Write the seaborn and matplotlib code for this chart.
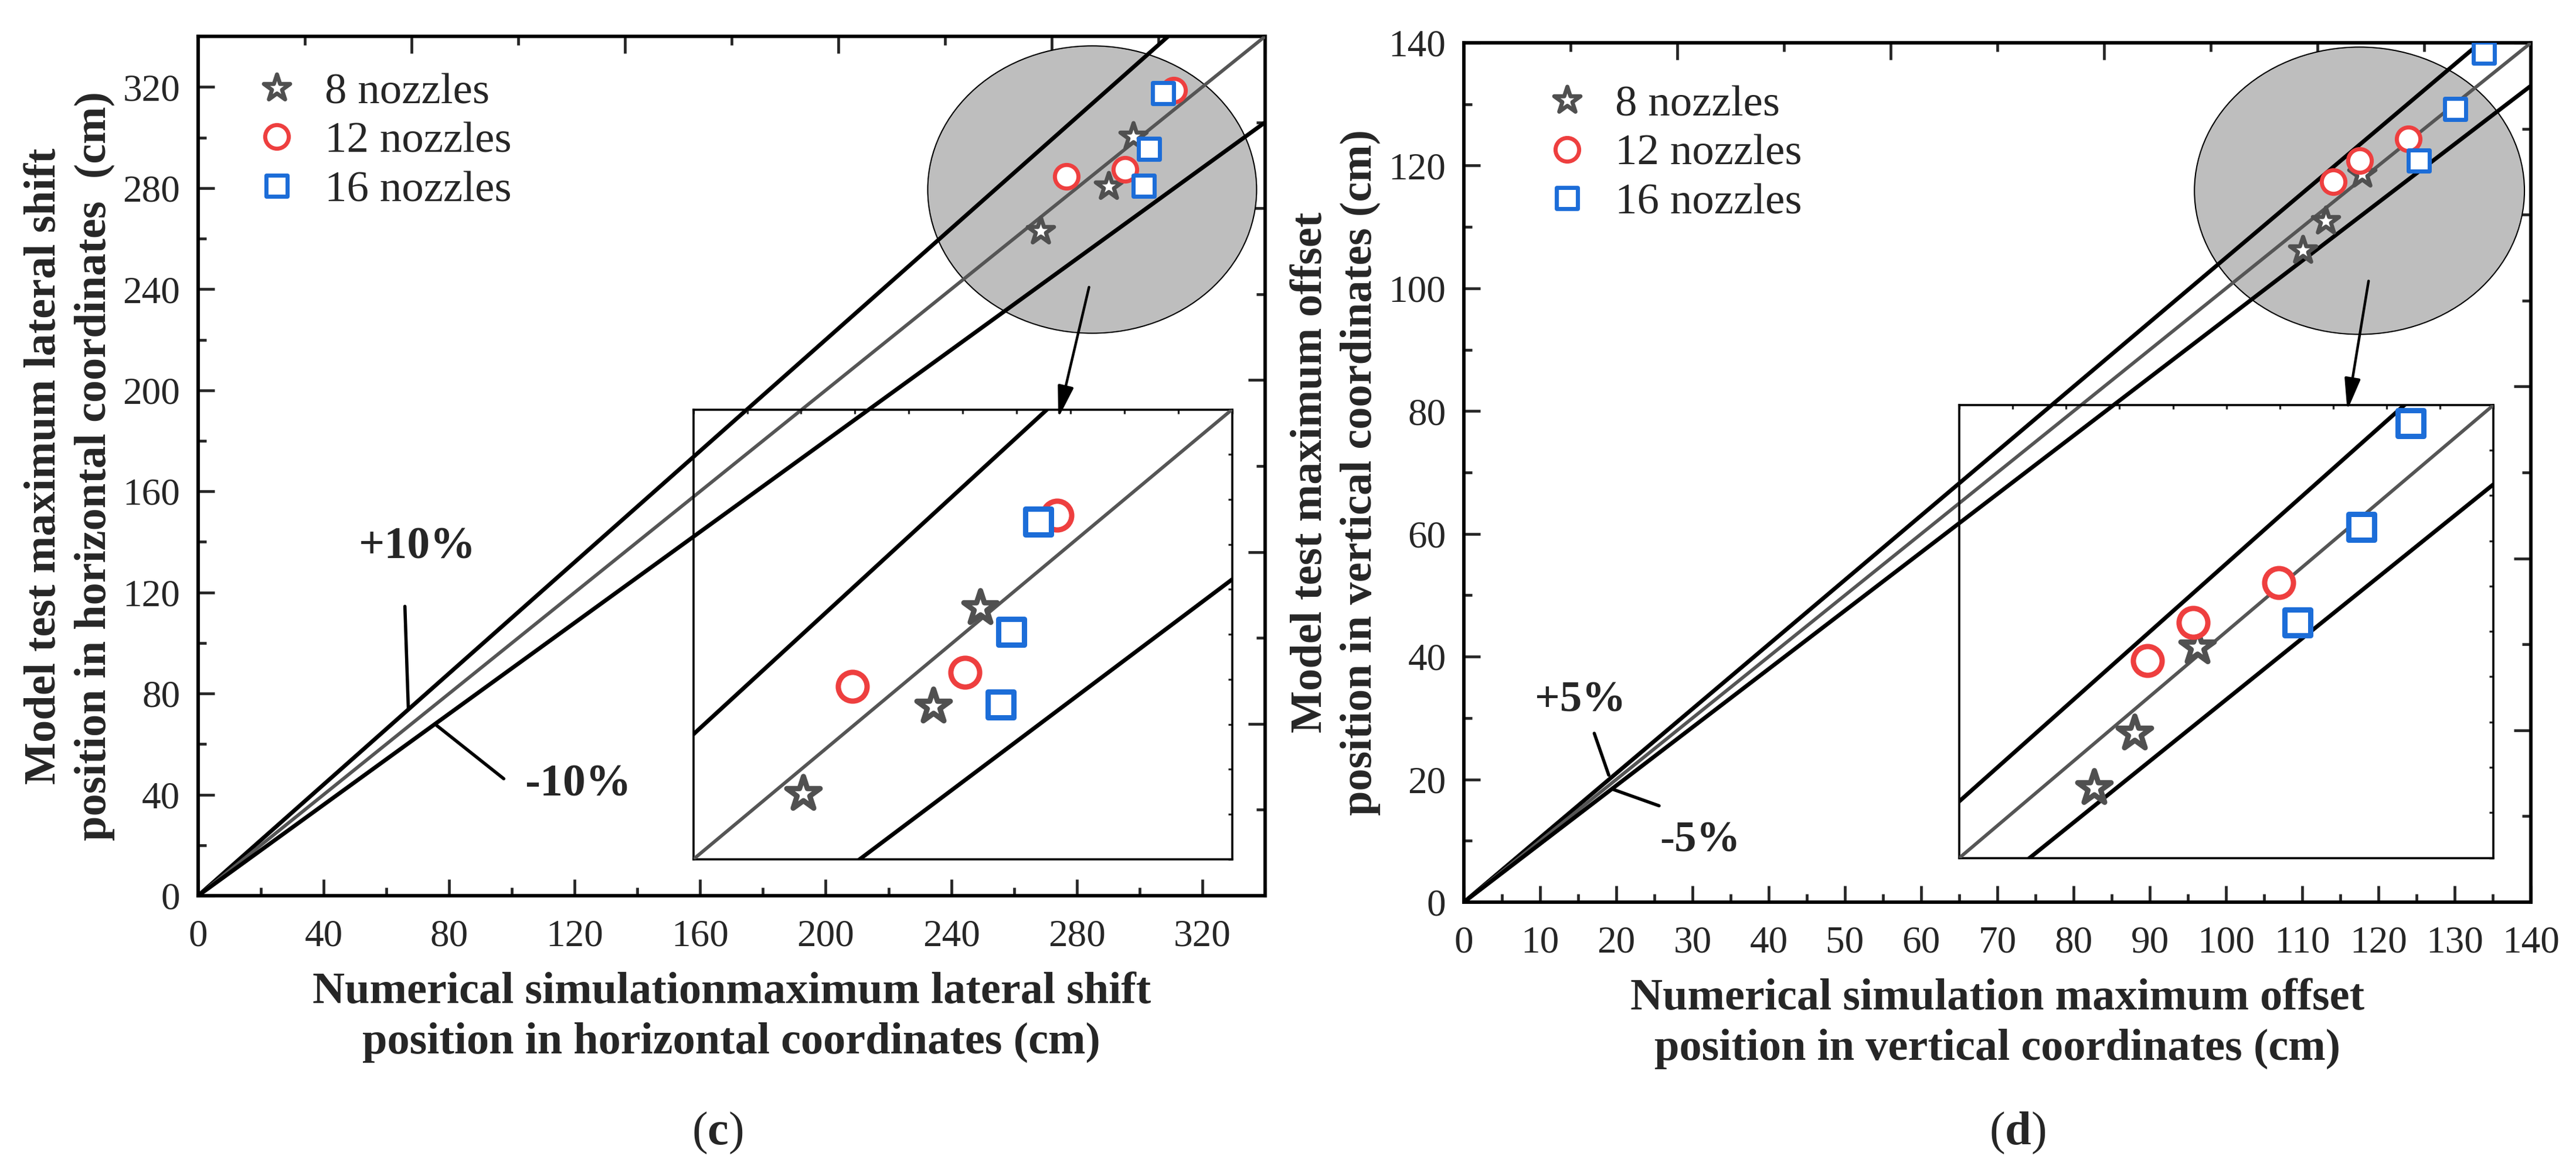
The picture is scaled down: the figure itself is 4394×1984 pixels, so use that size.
import numpy as np
import seaborn as sns
import matplotlib
matplotlib.use("Agg")
import matplotlib.pyplot as plt
from matplotlib.patches import Ellipse

# ---- data ----
# (c) lateral shift, horizontal coordinates (cm)
c_sim_8 = [268.4, 290.1, 297.9]
c_test_8 = [263.1, 280.6, 300.3]
c_sim_12 = [276.6, 295.4, 310.8]
c_test_12 = [284.6, 287.4, 318.8]
c_sim_16 = [307.6, 303.1, 301.4]
c_test_16 = [317.6, 295.5, 280.9]

# (d) offset, vertical coordinates (cm)
d_sim_8 = [110.1, 113.1, 117.8]
d_test_8 = [106.2, 111.0, 118.6]
d_sim_12 = [114.1, 117.5, 123.9]
d_test_12 = [117.4, 120.8, 124.3]
d_sim_16 = [125.3, 130.1, 133.8]
d_test_16 = [120.8, 129.2, 138.4]

labels = ["8 nozzles", "12 nozzles", "16 nozzles"]
markers = ["*", "o", "s"]
colors = ["#505050", "#EE3F3F", "#1C6DD8"]

sns.set_theme(style="white")
plt.rcParams["font.family"] = ["Liberation Serif", "DejaVu Serif"]
plt.rcParams["mathtext.fontset"] = "custom"
plt.rcParams["mathtext.rm"] = "Liberation Serif"
plt.rcParams["mathtext.bf"] = "Liberation Serif:bold"

fig = plt.figure(figsize=(43.94, 19.84), dpi=100)
axc = fig.add_axes([0.0769, 0.2298, 0.4142, 0.7389])
axd = fig.add_axes([0.5683, 0.2243, 0.4142, 0.7389])

main_sizes = {"*": 1150, "o": 840, "s": 660}
inset_sizes = {"*": 1850, "o": 1250, "s": 980}


def draw_points(ax, sims, tests, sizes, lw):
    handles = []
    for sx, sy, lab, mk, col in zip(sims, tests, labels, markers, colors):
        h = sns.scatterplot(x=sx, y=sy, marker=mk, s=sizes[mk], facecolor="white",
                            edgecolor=col, linewidth=lw, ax=ax, zorder=5, label=lab)
        handles.append(h.collections[-1])
    return handles


def draw_lines(ax, lim, band):
    xs = np.array([0, lim])
    ax.plot(xs, xs * (1 + band), color="black", lw=5, zorder=3, solid_capstyle="butt")
    ax.plot(xs, xs, color="#555555", lw=4.2, zorder=3, solid_capstyle="butt")
    ax.plot(xs, xs * (1 - band), color="black", lw=5, zorder=3, solid_capstyle="butt")


def style_main(ax, lim, major, minor, xlabel, ylabel):
    ax.set_xlim(0, lim)
    ax.set_ylim(0, lim)
    for s in ax.spines.values():
        s.set_linewidth(4.2)
        s.set_color("black")
    ax.tick_params(which="both", direction="in", width=3.4, top=False, right=False,
                   labelsize=47, bottom=True, left=True)
    ax.tick_params(axis="x", which="both", pad=29)
    ax.tick_params(axis="y", which="both", pad=22)
    ax.tick_params(which="major", length=20)
    ax.tick_params(which="minor", length=10)
    ax.set_xticks(np.arange(0, lim + 0.1, major[0]))
    ax.set_xticks(np.arange(0, lim + 0.1, minor[0]), minor=True)
    ax.set_yticks(np.arange(0, lim + 0.1, major[1]))
    ax.set_yticks(np.arange(0, lim + 0.1, minor[1]), minor=True)
    ax.set_xlabel(xlabel, fontsize=55, fontweight="bold", labelpad=22, linespacing=1.3)
    ax.set_ylabel(ylabel, fontsize=55, fontweight="bold", labelpad=10, linespacing=1.3)
    # opposite axes carry ticks at one tenth of the range
    step = lim / 10
    top = ax.secondary_xaxis("top")
    right = ax.secondary_yaxis("right")
    for sec in (top, right):
        sec.set_ticks(np.arange(2 * step, lim + 0.1, 2 * step))
        sec.set_ticks(np.arange(step, lim, 2 * step), minor=True)
        sec.tick_params(which="both", direction="in", width=3.4, labelsize=0,
                        labeltop=False, labelright=False)
        sec.tick_params(which="major", length=21)
        sec.tick_params(which="minor", length=11)
        for s in sec.spines.values():
            s.set_visible(False)
    right.set_yticklabels([])
    top.set_xticklabels([])


def make_inset(ax, bounds, lo, hi, n_minor, sims, tests):
    ins = ax.inset_axes(bounds, transform=ax.transData)
    ins.patch.set_alpha(0)
    draw_lines(ins, hi + 10, band)
    ins.set_xlim(lo, hi)
    ins.set_ylim(lo, hi)
    for s in ins.spines.values():
        s.set_linewidth(2.6)
        s.set_color("black")
    ins.set_xticks(np.linspace(lo, hi, n_minor + 1))
    ins.set_yticks(np.linspace(lo, hi, n_minor + 1))
    ins.tick_params(direction="out", length=8, width=2.4, labelbottom=False, labelleft=False)
    t = ins.secondary_xaxis("top")
    r = ins.secondary_yaxis("right")
    for sec in (t, r):
        sec.set_ticks(np.linspace(lo, hi, 11))
        sec.tick_params(direction="in", length=5, width=2.4, labeltop=False, labelright=False)
        for s in sec.spines.values():
            s.set_visible(False)
    t.set_xticklabels([])
    r.set_yticklabels([])
    draw_points(ins, sims, tests, inset_sizes, 6.5)
    if ins.get_legend() is not None:
        ins.get_legend().remove()
    return ins


# ---------------- panel (c) ----------------
band = 0.10
axc.add_patch(Ellipse((284.9, 279.4), 104.8, 113.7, facecolor="#BEBEBE",
                      edgecolor="black", lw=1.5, zorder=1))
draw_lines(axc, 340, band)
hc = draw_points(axc, [c_sim_8, c_sim_12, c_sim_16], [c_test_8, c_test_12, c_test_16],
                 main_sizes, 5)
style_main(axc, 340, (40, 40), (20, 20),
           "Numerical simulationmaximum lateral shift\nposition in horizontal coordinates (cm)",
           "Model test maximum lateral shift\nposition in horizontal coordinates  (cm)")
axc.legend(handles=hc, labels=labels, loc="upper left", bbox_to_anchor=(0.053, 0.958),
           frameon=False, fontsize=54, handlelength=1.0, handletextpad=0.6,
           labelspacing=0.2, borderpad=0, borderaxespad=0, scatterpoints=1,
           scatteryoffsets=[0.5])
make_inset(axc, [157.8, 14.4, 171.7, 178.0], 250, 340, 9,
           [c_sim_8, c_sim_12, c_sim_16], [c_test_8, c_test_12, c_test_16])
axc.annotate("", xy=(274.1, 189.0), xytext=(283.9, 240.8),
             arrowprops=dict(arrowstyle="-|>,head_length=0.6,head_width=0.15",
                             color="black", lw=3.2, mutation_scale=55, shrinkA=0, shrinkB=0),
             zorder=6)
axc.plot([65.9, 67.0], [114.5, 73.7], color="black", lw=4, zorder=4)
axc.plot([76.0, 97.4], [67.4, 46.3], color="black", lw=4, zorder=4)
axc.text(69.9, 137.7, "+10%", fontsize=56, fontweight="bold", ha="center", va="center")
axc.text(121.0, 43.9, "-10%", fontsize=56, fontweight="bold", ha="center", va="center")

# ---------------- panel (d) ----------------
band = 0.05
axd.add_patch(Ellipse((117.5, 115.9), 43.3, 46.8, facecolor="#BEBEBE",
                      edgecolor="black", lw=1.5, zorder=1))
draw_lines(axd, 140, band)
hd = draw_points(axd, [d_sim_8, d_sim_12, d_sim_16], [d_test_8, d_test_12, d_test_16],
                 main_sizes, 5)
style_main(axd, 140, (10, 20), (5, 10),
           "Numerical simulation maximum offset\nposition in vertical coordinates (cm)",
           "Model test maximum offset\nposition in vertical coordinates (cm)")
axd.legend(handles=hd, labels=labels, loc="upper left", bbox_to_anchor=(0.0758, 0.951),
           frameon=False, fontsize=54, handlelength=1.0, handletextpad=0.6,
           labelspacing=0.2, borderpad=0, borderaxespad=0, scatterpoints=1,
           scatteryoffsets=[0.5])
make_inset(axd, [65.0, 7.2, 70.1, 73.8], 100, 140, 8,
           [d_sim_8, d_sim_12, d_sim_16], [d_test_8, d_test_12, d_test_16])
axd.annotate("", xy=(115.9, 80.1), xytext=(118.7, 101.2),
             arrowprops=dict(arrowstyle="-|>,head_length=0.6,head_width=0.15",
                             color="black", lw=3.2, mutation_scale=55, shrinkA=0, shrinkB=0),
             zorder=6)
axd.plot([17.1, 19.0], [27.5, 20.7], color="black", lw=4, zorder=4)
axd.plot([19.5, 25.6], [18.4, 15.7], color="black", lw=4, zorder=4)
axd.text(15.3, 32.8, "+5%", fontsize=54, fontweight="bold", ha="center", va="center")
axd.text(31.0, 10.0, "-5%", fontsize=54, fontweight="bold", ha="center", va="center")

fig.text(1224 / 4394, 1 - 1933 / 1984, r"($\mathbf{c}$)", fontsize=58, ha="center", va="center")
fig.text(3441 / 4394, 1 - 1933 / 1984, r"($\mathbf{d}$)", fontsize=58, ha="center", va="center")

fig.savefig("out.png", dpi=100)
